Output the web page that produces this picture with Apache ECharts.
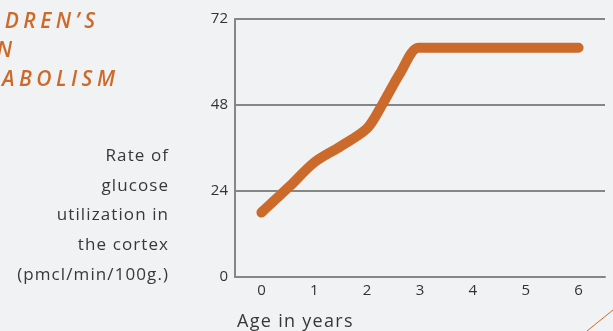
<!DOCTYPE html>
<html>
<head>
<meta charset="utf-8">
<script src="https://cdn.jsdelivr.net/npm/echarts@6/dist/echarts.min.js"></script>
<style>
  html, body { margin: 0; padding: 0; background: #f1f2f4; overflow: hidden; }
  #wrap { position: relative; width: 613px; height: 331px; overflow: hidden; }
  #chart { position: absolute; left: 0; top: 0; width: 613px; height: 331px; }
  .title {
    position: absolute; color: #cc6a2b; font: italic 600 21px "Open Sans", sans-serif;
    letter-spacing: 4.5px; white-space: nowrap; line-height: 29px; text-align: right;
  }
  .caption {
    position: absolute; color: #383838; font: 17px "Open Sans", sans-serif;
    letter-spacing: 1.1px; white-space: nowrap; text-align: right; line-height: 29.7px;
  }
  .xcap {
    position: absolute; color: #383838; font: 18px "Open Sans", sans-serif;
    letter-spacing: 1.3px; white-space: nowrap; line-height: 24px;
  }
</style>
</head>
<body>
<div id="wrap">
  <div id="chart"></div>
  <div id="title"></div>
  <div id="ycap"></div>
  <div id="xcap"></div>
</div>
<script>
// Age categories shown on the horizontal axis
const ageLabels = ['0', '1', '2', '3', '4', '5', '6'];
// Glucose utilization curve: [age in years, rate]
const ageYears = [0, 0.54, 1, 1.5, 2, 2.3, 2.62, 2.97, 3.3, 6];
const glucoseRate = [18, 25.4, 32, 36.5, 41.5, 48.5, 56.8, 64, 64, 64];
// Vertical axis ticks
const rateTicks = [0, 24, 48, 72];
// Title and axis captions
const titleLines = ['CHILDREN\u2019S', 'BRAIN', 'METABOLISM'];
const yCaption = ['Rate of', 'glucose', 'utilization in', 'the cortex', '(pmcl/min/100g.)'];
const xCaption = 'Age in years';

const orange = '#cc6a2b';
const grey = '#868686';
const font = '"Open Sans", sans-serif';

// Heading block, clipped by the left edge of the page
const titleRight = [95, 12, 115];
const titleTop = [6, 35, 64];
titleLines.forEach((t, i) => {
  const d = document.createElement('div');
  d.className = 'title';
  d.textContent = t;
  d.style.right = (613 - titleRight[i] - 4.5) + 'px';
  d.style.top = titleTop[i] + 'px';
  document.getElementById('title').appendChild(d);
});
yCaption.forEach((t, i) => {
  const d = document.createElement('div');
  d.className = 'caption';
  d.textContent = t;
  d.style.right = (613 - 168 - 1.1) + 'px';
  d.style.top = (140 + i * 29.7) + 'px';
  document.getElementById('ycap').appendChild(d);
});
const xc = document.createElement('div');
xc.className = 'xcap';
xc.textContent = xCaption;
xc.style.left = '237px';
xc.style.top = '308px';
document.getElementById('xcap').appendChild(xc);

const curve = ageYears.map((a, i) => [a, glucoseRate[i]]);

const chart = echarts.init(document.getElementById('chart'), null, { renderer: 'canvas' });
chart.setOption({
  backgroundColor: '#f1f2f4',
  animation: false,
  grid: { left: 235, right: 8, top: 19, bottom: 54, containLabel: false },
  xAxis: [
    {
      type: 'category', data: ageLabels, boundaryGap: true,
      axisLine: { lineStyle: { color: grey, width: 2 } },
      axisTick: { inside: true, alignWithLabel: true, length: 6, lineStyle: { color: grey, width: 2 } },
      axisLabel: { color: '#333', fontSize: 15, fontFamily: font, margin: 6 },
      splitLine: { show: false }
    },
    {
      type: 'value', min: -0.5, max: 6.5, show: false, position: 'bottom',
      splitLine: { show: false }
    }
  ],
  yAxis: {
    type: 'value', min: rateTicks[0], max: rateTicks[rateTicks.length - 1], interval: 24,
    axisLine: { show: true, onZero: false, lineStyle: { color: grey, width: 2 } },
    axisTick: { show: false },
    axisLabel: { color: '#333', fontSize: 15, fontFamily: font, margin: 7 },
    splitLine: { lineStyle: { color: grey, width: 2 } }
  },
  series: [{
    type: 'line', xAxisIndex: 1, data: curve,
    smooth: 0.3,
    showSymbol: false, symbol: 'none',
    lineStyle: { color: orange, width: 10, cap: 'round', join: 'round' }
  }],
  graphic: [{
    // decorative stroke in the lower right corner
    type: 'line', shape: { x1: 587, y1: 331, x2: 613, y2: 310 },
    style: { stroke: orange, lineWidth: 1 }
  }]
});
</script>
</body>
</html>
